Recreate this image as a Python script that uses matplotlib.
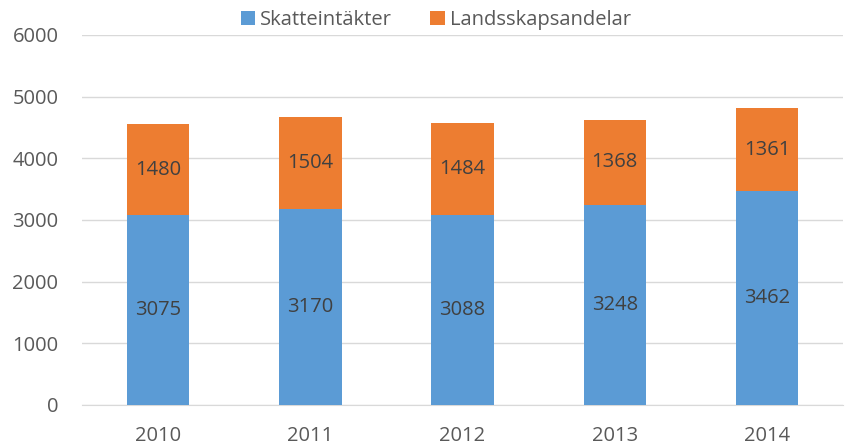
import matplotlib.pyplot as plt
import numpy as np

years = ['2010', '2011', '2012', '2013', '2014']
skatt = [3075, 3170, 3088, 3248, 3462]
landskap = [1480, 1504, 1484, 1368, 1361]

plt.rcParams['font.family'] = ['Open Sans', 'DejaVu Sans']

fig = plt.figure(figsize=(8.46, 4.46), dpi=100)
ax = fig.add_axes([0.097, 0.092, 0.8995, 0.8296])

x = np.arange(len(years))
w = 0.41
ax.bar(x, skatt, w, color='#5B9BD5', label='Skatteintäkter', zorder=3)
ax.bar(x, landskap, w, bottom=skatt, color='#ED7D31', label='Landsskapsandelar', zorder=3)

# value labels inside bars
for i in range(len(years)):
    ax.text(x[i], skatt[i] / 2, str(skatt[i]), ha='center', va='center', fontsize=14.5, color='#404040', zorder=4)
    ax.text(x[i], skatt[i] + landskap[i] / 2, str(landskap[i]), ha='center', va='center', fontsize=14.5, color='#404040', zorder=4)

ax.set_xlim(-0.5, 4.5)
ax.set_ylim(0, 6000)
ax.set_yticks(range(0, 6001, 1000))
ax.set_xticks(x)
ax.set_xticklabels(years)
ax.yaxis.grid(True, color='#D9D9D9', linewidth=1, zorder=0)
for s in ['top', 'right', 'left']:
    ax.spines[s].set_visible(False)
ax.spines['bottom'].set_color('#D9D9D9')
ax.tick_params(axis='both', length=0, labelsize=14.5, labelcolor='#595959')
ax.tick_params(axis='y', pad=17)
ax.tick_params(axis='x', pad=15)

ax.legend(loc='center', bbox_to_anchor=(0.465, 1.04), ncol=2, frameon=False,
          fontsize=14.5, handlelength=0.7, handleheight=0.7, columnspacing=1.9,
          handletextpad=0.25, labelcolor='#595959', borderpad=0)

fig.savefig('out.png', dpi=100)
